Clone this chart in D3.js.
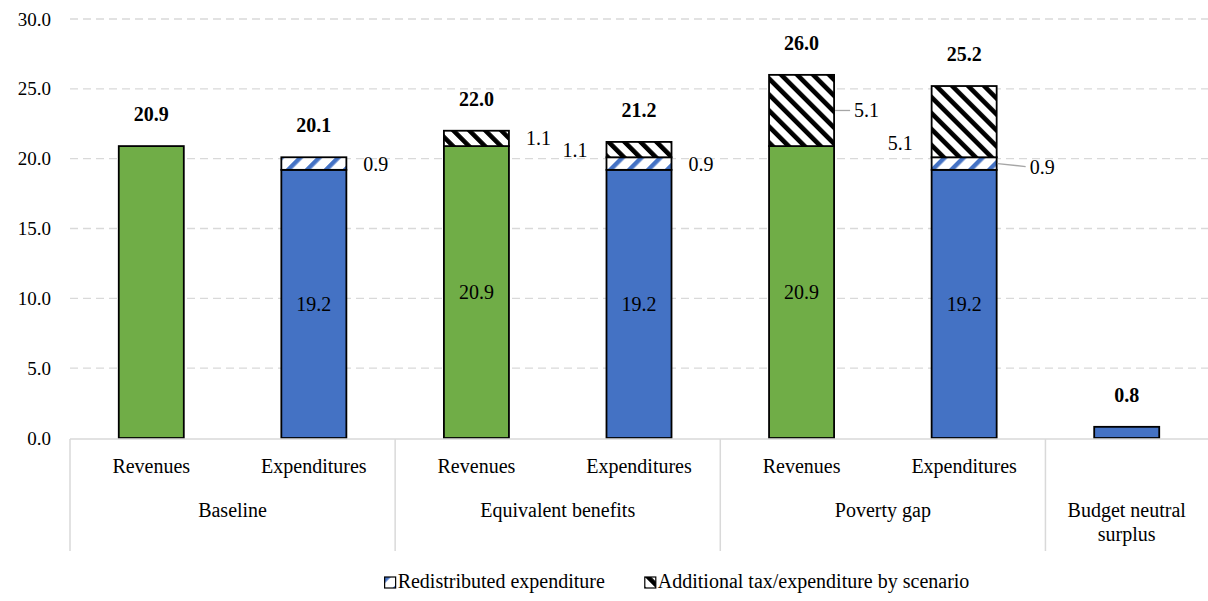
<!DOCTYPE html>
<html>
<head>
<meta charset="utf-8">
<script src="https://cdn.jsdelivr.net/npm/d3@7"></script>
<style>
  body { margin: 0; background: #fff; }
</style>
</head>
<body>
<div id="chart"></div>
<script>
// chart data
var categories = ["Revenues", "Expenditures", "Revenues", "Expenditures", "Revenues", "Expenditures", ""];
var groups = ["Baseline", "Equivalent benefits", "Poverty gap", "Budget neutral surplus"];
var groupOf = [0, 0, 1, 1, 2, 2, 3];
var kind = ["rev", "exp", "rev", "exp", "rev", "exp", "exp"];
var baseValues = [20.9, 19.2, 20.9, 19.2, 20.9, 19.2, 0.8];
var redistributed = [0, 0.9, 0, 0.9, 0, 0.9, 0];
var additional = [0, 0, 1.1, 1.1, 5.1, 5.1, 0];
var totals = [20.9, 20.1, 22.0, 21.2, 26.0, 25.2, 0.8];
var showInside = [false, true, true, true, true, true, false];
var yTicks = [0, 5, 10, 15, 20, 25, 30];
var legendLabels = ["Redistributed expenditure", "Additional tax/expenditure by scenario"];

var FONT = "Liberation Serif, DejaVu Serif, Times New Roman, serif";

(function() {
  var W = 1208, H = 601;
  var left = 70, right = 1208, top = 19, bottom = 438;

  var svg = d3.select("#chart").append("svg")
    .attr("width", W).attr("height", H)
    .attr("font-family", FONT)
    .attr("font-size", 20);

  // patterns
  var defs = svg.append("defs");
  var pBlue = defs.append("pattern").attr("id", "redist")
    .attr("patternUnits", "userSpaceOnUse")
    .attr("width", 13.4).attr("height", 13.4)
    .attr("patternTransform", "rotate(45)");
  pBlue.append("rect").attr("width", 13.4).attr("height", 13.4).attr("fill", "#fff");
  pBlue.append("rect").attr("x", 0).attr("width", 4.4).attr("height", 13.4).attr("fill", "#4472C4");

  var pBlack = defs.append("pattern").attr("id", "addl")
    .attr("patternUnits", "userSpaceOnUse")
    .attr("width", 11.3).attr("height", 11.3)
    .attr("patternTransform", "rotate(-45)");
  pBlack.append("rect").attr("width", 11.3).attr("height", 11.3).attr("fill", "#fff");
  pBlack.append("rect").attr("x", 0).attr("width", 4.6).attr("height", 11.3).attr("fill", "#000");

  var x = d3.scaleBand().domain(d3.range(categories.length))
    .range([left, right]).paddingInner(0.6).paddingOuter(0.3);
  var y = d3.scaleLinear().domain([0, 30]).range([bottom, top]);

  // gridlines
  svg.append("g").selectAll("line").data(yTicks.filter(function(d) { return d > 0; }))
    .enter().append("line")
      .attr("x1", left).attr("x2", right)
      .attr("y1", function(d) { return y(d); }).attr("y2", function(d) { return y(d); })
      .attr("stroke", "#d9d9d9").attr("stroke-width", 1.3)
      .attr("stroke-dasharray", "8,5");

  // y axis labels
  var yAxis = svg.append("g").attr("transform", "translate(" + left + ",0)")
    .call(d3.axisLeft(y).tickValues(yTicks).tickFormat(d3.format(".1f")).tickSize(0).tickPadding(19));
  yAxis.attr("font-family", FONT).attr("font-size", 19);
  yAxis.select(".domain").remove();
  yAxis.selectAll("text").attr("fill", "#000");

  // stacked segments
  var fills = { rev: "#70AD47", exp: "#4472C4" };
  var segs = [];
  categories.forEach(function(c, i) {
    var y0 = 0;
    segs.push({ i: i, key: "base", v0: y0, v1: y0 + baseValues[i], fill: fills[kind[i]] });
    y0 += baseValues[i];
    if (redistributed[i] > 0) {
      segs.push({ i: i, key: "red", v0: y0, v1: y0 + redistributed[i], fill: "url(#redist)" });
      y0 += redistributed[i];
    }
    if (additional[i] > 0) {
      segs.push({ i: i, key: "add", v0: y0, v1: y0 + additional[i], fill: "url(#addl)" });
    }
  });

  svg.append("g").selectAll("rect").data(segs).enter().append("rect")
    .attr("x", function(d) { return x(d.i); })
    .attr("width", x.bandwidth())
    .attr("y", function(d) { return y(d.v1); })
    .attr("height", function(d) { return y(d.v0) - y(d.v1); })
    .attr("fill", function(d) { return d.fill; })
    .attr("stroke", "#000").attr("stroke-width", 1.8);

  // category axis frame
  var step = x.step();
  var axisG = svg.append("g").attr("stroke", "#d9d9d9").attr("stroke-width", 1.5);
  axisG.append("line").attr("x1", left).attr("x2", right).attr("y1", bottom + 1).attr("y2", bottom + 1);
  var bounds = [0, 2, 4, 6];
  axisG.selectAll(".sep").data(bounds).enter().append("line")
    .attr("x1", function(d) { return left + d * step; })
    .attr("x2", function(d) { return left + d * step; })
    .attr("y1", bottom + 1).attr("y2", 551);

  // category labels
  svg.append("g").selectAll("text").data(categories).enter().append("text")
    .attr("x", function(d, i) { return x(i) + x.bandwidth() / 2; })
    .attr("y", 473)
    .attr("text-anchor", "middle")
    .text(function(d) { return d; });

  // group labels
  var groupCenters = [0, 1, 2, 3].map(function(g) {
    var idx = d3.range(categories.length).filter(function(i) { return groupOf[i] === g; });
    return (x(idx[0]) + x(idx[idx.length - 1]) + x.bandwidth()) / 2;
  });
  var gl = svg.append("g").selectAll("text").data(groups).enter().append("text")
    .attr("x", function(d, i) { return groupCenters[i]; })
    .attr("y", 517)
    .attr("text-anchor", "middle");
  gl.each(function(d, i) {
    var t = d3.select(this);
    if (i === 3) {
      t.append("tspan").attr("x", groupCenters[i]).attr("dy", 0).text("Budget neutral");
      t.append("tspan").attr("x", groupCenters[i]).attr("dy", 24).text("surplus");
    } else {
      t.text(d);
    }
  });

  // totals (bold)
  svg.append("g").selectAll("text").data(totals).enter().append("text")
    .attr("x", function(d, i) { return x(i) + x.bandwidth() / 2; })
    .attr("y", function(d) { return y(d) - 25; })
    .attr("text-anchor", "middle")
    .attr("font-weight", "bold")
    .text(function(d) { return d3.format(".1f")(d); });

  // labels inside base bars
  svg.append("g").selectAll("text").data(d3.range(categories.length).filter(function(i) { return showInside[i]; }))
    .enter().append("text")
    .attr("x", function(i) { return x(i) + x.bandwidth() / 2; })
    .attr("y", function(i) { return y(baseValues[i] / 2) + 7; })
    .attr("text-anchor", "middle")
    .text(function(i) { return d3.format(".1f")(baseValues[i]); });

  // side labels for the small segments
  var nudge = {
    "add-3": { side: "left" },
    "add-5": { side: "left", dy: 21 },
    "add-4": { leader: true, gap: 20 },
    "red-5": { leader: true, gap: 33, dy: 3 }
  };
  var side = segs.filter(function(s) { return s.key !== "base"; }).map(function(s) {
    var n = nudge[s.key + "-" + s.i] || {};
    var cy = y((s.v0 + s.v1) / 2);
    var isLeft = n.side === "left";
    var gap = n.gap || (isLeft ? 19 : 17);
    return {
      s: s, cy: cy, dy: n.dy || 0, leader: !!n.leader,
      anchor: isLeft ? "end" : "start",
      edge: isLeft ? x(s.i) : x(s.i) + x.bandwidth(),
      tx: isLeft ? x(s.i) - gap : x(s.i) + x.bandwidth() + gap
    };
  });
  var sl = svg.append("g");
  sl.selectAll("line").data(side.filter(function(d) { return d.leader; })).enter().append("line")
    .attr("x1", function(d) { return d.edge + 1; })
    .attr("x2", function(d) { return d.tx - 4; })
    .attr("y1", function(d) { return d.cy; })
    .attr("y2", function(d) { return d.cy + d.dy; })
    .attr("stroke", "#a6a6a6").attr("stroke-width", 1.3);
  sl.selectAll("text").data(side).enter().append("text")
    .attr("x", function(d) { return d.tx; })
    .attr("y", function(d) { return d.cy + d.dy + 7; })
    .attr("text-anchor", function(d) { return d.anchor; })
    .text(function(d) { return d3.format(".1f")(d.s.v1 - d.s.v0); });

  // legend, items laid out by text width and centred under the chart
  var legendFill = ["url(#redist)", "url(#addl)"];
  var lg = svg.append("g");
  var lx = 0;
  legendLabels.forEach(function(label, i) {
    var item = lg.append("g").attr("transform", "translate(" + lx + ",0)");
    item.append("rect").attr("width", 11).attr("height", 11)
      .attr("fill", legendFill[i])
      .attr("stroke", "#000").attr("stroke-width", 1.2);
    var t = item.append("text").attr("x", 13).attr("y", 11).text(label);
    lx += 13 + t.node().getComputedTextLength() + (i < legendLabels.length - 1 ? 40 : 0);
  });
  lg.attr("transform", "translate(" + (677 - lx / 2) + ",577)");
})();
</script>
</body>
</html>
